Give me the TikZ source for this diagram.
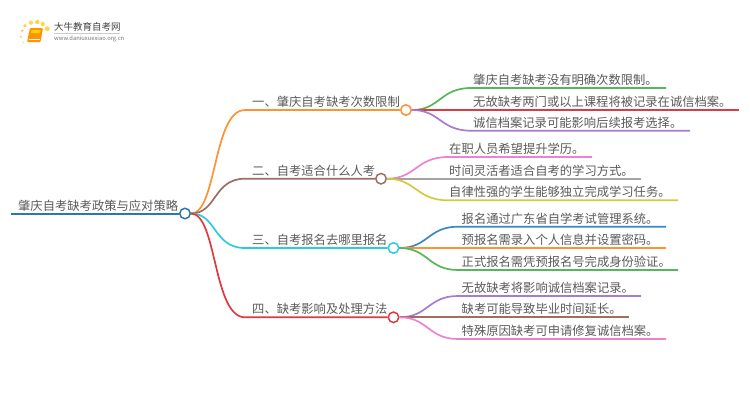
\documentclass[tikz,border=0pt]{standalone}
\usepackage{fontspec}
\setmainfont{Noto Sans CJK SC}
\definecolor{rootblue}{HTML}{2E75B6}
\definecolor{txtgray}{HTML}{5A5A5A}
\definecolor{morange}{HTML}{FF9233}
\definecolor{mbrown}{HTML}{9C6F62}
\definecolor{mcyan}{HTML}{2CCBE0}
\definecolor{mred}{HTML}{DE3B40}
\definecolor{mgreen}{HTML}{55B65A}
\definecolor{mpurple}{HTML}{A97BCF}
\definecolor{mpink}{HTML}{EA84CF}
\definecolor{mgray}{HTML}{A3A3A3}
\definecolor{molive}{HTML}{CFCB3F}
\definecolor{mblue}{HTML}{3A87C8}
\tikzset{
  label/.style={anchor=base west, inner sep=0pt, text=txtgray, font=\fontsize{12.3}{14}\selectfont},
  knob/.style={circle, draw=#1, fill=white, line width=1.5pt, minimum size=10.5pt, inner sep=0pt},
  limb/.style={draw=#1, line width=1.7pt},
  spot/.style={fill=#1, draw=none}
}
\begin{document}
\begin{tikzpicture}[x=1pt,y=-1pt]
    \useasboundingbox (0,0) rectangle (750,410);
    % Logo
    \fill[spot=orange!25] (23.3,42.3) circle (1.1);
    \fill[spot=orange!35] (21,36.7) circle (1.4);
    \fill[spot=orange!40] (22.3,30.7) circle (1.6);
    \fill[spot=yellow!60!orange!70] (25,25.7) circle (1.9);
    \fill[spot=yellow!60!orange!70] (31,22.7) circle (2.1);
    \fill[spot=yellow!60!orange!70] (37.3,22) circle (2.2);
    \fill[spot=yellow!60!orange!70] (42.7,24) circle (2.2);
    \fill[spot=yellow!60!orange!70] (47.3,28.7) circle (2.5);
    \fill[orange!85!yellow, rounded corners=1pt] (30,28) -- (43,28) -- (40.5,42) -- (27,42) -- cycle;
    \fill[yellow!70!orange] (31.5,30) -- (40.5,30) -- (39.8,33) -- (31,33) -- cycle;
    \draw[white, line width=0.5pt] (28.5,39.5) -- (40,39.5);
    \node[anchor=base west, inner sep=0pt, text=black!75, font=\fontsize{9.5}{11}\selectfont] (brand) at (54,30.5) {大牛教育自考网};
    \draw[black!20, line width=0.5pt] (54,33.3) -- (120,33.3);
    \node[anchor=base west, inner sep=0pt, text=black!55, font=\fontsize{5.8}{7}\selectfont] (site) at (54,40.5) {www.daniuxuexiao.org.cn};
    % Root
    \node[knob=rootblue] (root) at (185,213.5) {};
    \node[label] (roottxt) at (18,210) {肇庆自考缺考政策与应对策略};
    \coordinate (rootend) at (11,213.5);
    \draw[rootblue, line width=2pt] (rootend) -- (root.west);
    % Branch one
    \node[knob=morange] (one) at (406,110) {};
    \node[label] (onetxt) at (252,106.5) {一、肇庆自考缺考次数限制};
    \coordinate (oneturn) at (245,110);
    \draw[limb=morange] (root.east) .. controls (217,213.5) and (213,110) .. (oneturn) -- (one.west);
    % Branch two
    \node[knob=mbrown] (two) at (381,178.7) {};
    \node[label] (twotxt) at (252,175.2) {二、自考适合什么人考};
    \coordinate (twoturn) at (245,178.7);
    \draw[limb=mbrown] (root.east) .. controls (217,213.5) and (213,178.7) .. (twoturn) -- (two.west);
    % Branch three
    \node[knob=mcyan] (three) at (393.5,248) {};
    \node[label] (threetxt) at (252,244.5) {三、自考报名去哪里报名};
    \coordinate (threeturn) at (245,248);
    \draw[limb=mcyan] (root.east) .. controls (217,213.5) and (213,248) .. (threeturn) -- (three.west);
    % Branch four
    \node[knob=mred] (four) at (393.5,317.3) {};
    \node[label] (fourtxt) at (252,313.8) {四、缺考影响及处理方法};
    \coordinate (fourturn) at (245,317.3);
    \draw[limb=mred] (root.east) .. controls (217,213.5) and (213,317.3) .. (fourturn) -- (four.west);
    % Leaves of one
    \node[label] (leafa) at (473,84.5) {肇庆自考缺考没有明确次数限制。};
    \coordinate (leafaend) at (666,88);
    \draw[limb=mgreen] (one.east) .. controls (440,110) and (440,88) .. (471,88) -- (leafaend);
    \node[label] (leafb) at (473,106.2) {无故缺考两门或以上课程将被记录在诚信档案。};
    \coordinate (leafbend) at (739,110);
    \draw[limb=mred] (one.east) -- (leafbend);
    \node[label] (leafc) at (473,127.2) {诚信档案记录可能影响后续报考选择。};
    \coordinate (leafcend) at (690,130.7);
    \draw[limb=mpurple] (one.east) .. controls (440,110) and (440,130.7) .. (471,130.7) -- (leafcend);
    % Leaves of two
    \node[label] (leafd) at (449,153.5) {在职人员希望提升学历。};
    \coordinate (leafdend) at (592,157);
    \draw[limb=mpink] (two.east) .. controls (416,178.7) and (416,157) .. (448,157) -- (leafdend);
    \node[label] (leafe) at (449,175.2) {时间灵活者适合自考的学习方式。};
    \coordinate (leafeend) at (641,178.7);
    \draw[limb=mgray] (two.east) -- (leafeend);
    \node[label] (leaff) at (449,196.8) {自律性强的学生能够独立完成学习任务。};
    \coordinate (leaffend) at (678,200.3);
    \draw[limb=molive] (two.east) .. controls (416,178.7) and (416,200.3) .. (448,200.3) -- (leaffend);
    % Leaves of three
    \node[label] (leafg) at (461.5,223.2) {报名通过广东省自学考试管理系统。};
    \coordinate (leafgend) at (666,226.7);
    \draw[limb=mblue] (three.east) .. controls (428,248) and (428,226.7) .. (458,226.7) -- (leafgend);
    \node[label] (leafh) at (461.5,244.5) {预报名需录入个人信息并设置密码。};
    \coordinate (leafhend) at (666,248);
    \draw[limb=morange] (three.east) -- (leafhend);
    \node[label] (leafi) at (461.5,266.5) {正式报名需凭预报名号完成身份验证。};
    \coordinate (leafiend) at (678,270);
    \draw[limb=mgreen] (three.east) .. controls (428,248) and (428,270) .. (458,270) -- (leafiend);
    % Leaves of four
    \node[label] (leafj) at (461.5,292.5) {无故缺考将影响诚信档案记录。};
    \coordinate (leafjend) at (641,296);
    \draw[limb=mpurple] (four.east) .. controls (428,317.3) and (428,296) .. (458,296) -- (leafjend);
    \node[label] (leafk) at (461.5,313.8) {缺考可能导致毕业时间延长。};
    \coordinate (leafkend) at (629,317.3);
    \draw[limb=mbrown] (four.east) -- (leafkend);
    \node[label] (leafl) at (461.5,335.5) {特殊原因缺考可申请修复诚信档案。};
    \coordinate (leaflend) at (666,339);
    \draw[limb=mpink] (four.east) .. controls (428,317.3) and (428,339) .. (458,339) -- (leaflend);
\end{tikzpicture}
\end{document}
